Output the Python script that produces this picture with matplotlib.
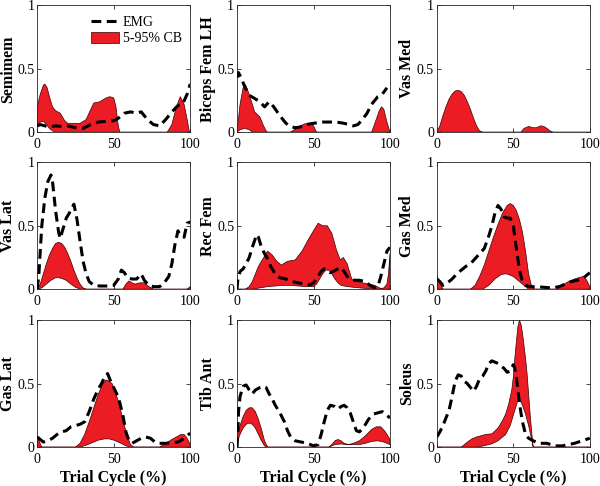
import matplotlib
matplotlib.use("Agg")
import matplotlib.pyplot as plt
from matplotlib.lines import Line2D
from matplotlib.patches import Patch
import numpy as np

plt.rcParams['font.family'] = ['Liberation Serif', 'DejaVu Serif']

# ---- Semimem
semi_emg_x = [0, 2, 5, 8, 12, 16, 20, 25, 30, 35, 40, 45, 50, 53, 57, 61, 65, 68, 72, 76, 80, 84, 88, 92, 95, 98, 100]
semi_emg = [0.05, 0.06, 0.05, 0.04, 0.05, 0.045, 0.05, 0.035, 0.03, 0.06, 0.08, 0.085, 0.09, 0.11, 0.15, 0.16, 0.15, 0.16, 0.1, 0.06, 0.05, 0.1, 0.16, 0.21, 0.22, 0.3, 0.38]
semi_hi_x = [0, 2, 4, 5, 6.5, 8, 10, 12, 15, 18, 20, 25, 28, 32, 35, 37, 41, 45, 47.5, 50, 51.5, 53, 54, 85, 88, 91, 93.5, 96, 98, 99.5, 100]
semi_hi = [0.2, 0.3, 0.37, 0.38, 0.35, 0.28, 0.2, 0.17, 0.15, 0.09, 0.07, 0.07, 0.07, 0.1, 0.18, 0.23, 0.24, 0.27, 0.28, 0.27, 0.2, 0.05, 0, 0, 0.06, 0.2, 0.28, 0.22, 0.1, 0, 0]
semi_lo_x = [0, 2, 4, 6, 8, 10, 12, 100]
semi_lo = [0.04, 0.08, 0.085, 0.06, 0.03, 0.01, 0, 0]

# ---- Biceps Fem LH
bf_emg_x = [0, 1, 3, 5, 8, 11, 15, 18, 21, 24, 28, 32, 35, 38, 41, 45, 50, 55, 60, 65, 70, 73, 76, 79, 82, 85, 88, 92, 95, 98]
bf_emg = [0.43, 0.47, 0.42, 0.36, 0.29, 0.27, 0.24, 0.2, 0.24, 0.2, 0.13, 0.07, 0.045, 0.035, 0.04, 0.06, 0.07, 0.08, 0.08, 0.08, 0.07, 0.06, 0.05, 0.06, 0.1, 0.15, 0.22, 0.28, 0.3, 0.35]
bf_hi_x = [0, 2, 4, 5.5, 7, 9.5, 11.5, 15, 17, 19, 20, 35, 40, 44, 47.5, 50, 52, 88, 91, 93, 94.5, 96, 98, 100]
bf_hi = [0, 0.22, 0.35, 0.375, 0.33, 0.24, 0.16, 0.12, 0.06, 0.01, 0, 0, 0.04, 0.065, 0.07, 0.05, 0, 0, 0.1, 0.17, 0.2, 0.18, 0.08, 0]
bf_lo_x = [0, 2, 5, 8, 10, 100]
bf_lo = [0, 0.02, 0.03, 0.02, 0, 0]

# ---- Vas Med (no EMG trace)
vm_hi_x = [0, 2, 4, 6, 8, 10, 12, 14, 16, 18, 20, 22, 24, 26, 28, 30, 55, 57, 60, 63, 65, 68, 70, 72, 74, 76, 100]
vm_hi = [0, 0.05, 0.13, 0.2, 0.26, 0.3, 0.325, 0.33, 0.32, 0.29, 0.24, 0.18, 0.11, 0.05, 0.01, 0, 0, 0.03, 0.045, 0.035, 0.035, 0.05, 0.045, 0.03, 0.01, 0, 0]
vm_lo_x = [0, 100]
vm_lo = [0, 0]

# ---- Vas Lat
vl_emg_x = [0, 1, 2, 3, 5, 7, 9, 10, 12, 14, 15, 17, 19, 21, 24, 26, 28, 30, 32, 34, 37, 41, 45, 50, 53, 55, 57, 59, 62, 65, 68, 70, 73, 76, 80, 83, 86, 88, 90, 92, 94, 96, 98, 100]
vl_emg = [0, 0.1, 0.3, 0.5, 0.72, 0.85, 0.9, 0.85, 0.62, 0.45, 0.4, 0.48, 0.56, 0.6, 0.67, 0.55, 0.38, 0.22, 0.12, 0.06, 0.03, 0.025, 0.025, 0.03, 0.08, 0.15, 0.13, 0.09, 0.08, 0.08, 0.12, 0.07, 0.03, 0.02, 0.02, 0.05, 0.1, 0.2, 0.35, 0.46, 0.42, 0.41, 0.52, 0.53]
vl_hi_x = [0, 2, 4, 6, 8, 10, 12, 14, 16, 18, 20, 22, 24, 26, 28, 30, 32, 56, 58, 60, 62, 64, 67, 70, 73, 76, 98, 100]
vl_hi = [0, 0.04, 0.12, 0.2, 0.27, 0.32, 0.36, 0.37, 0.36, 0.33, 0.28, 0.22, 0.15, 0.09, 0.04, 0.01, 0, 0, 0.04, 0.065, 0.05, 0.04, 0.05, 0.05, 0.02, 0, 0, 0.02]
vl_lo_x = [0, 3, 6, 9, 12, 14, 16, 19, 22, 25, 28, 100]
vl_lo = [0, 0.01, 0.04, 0.07, 0.09, 0.09, 0.085, 0.07, 0.04, 0.015, 0, 0]

# ---- Rec Fem
rf_emg_x = [0, 0.5, 2, 4, 6, 8, 10, 12, 13, 14, 16, 18, 20, 22, 25, 28, 32, 36, 40, 44, 48, 50, 53, 55, 57, 59, 61, 63, 66, 68, 70, 72, 74, 77, 80, 84, 87, 90, 92, 94, 96, 98, 100]
rf_emg = [0, 0.07, 0.14, 0.16, 0.2, 0.25, 0.33, 0.4, 0.43, 0.41, 0.33, 0.28, 0.24, 0.18, 0.12, 0.09, 0.08, 0.06, 0.05, 0.04, 0.035, 0.05, 0.1, 0.14, 0.16, 0.15, 0.13, 0.14, 0.16, 0.17, 0.14, 0.1, 0.08, 0.07, 0.07, 0.06, 0.03, 0.01, 0.02, 0.1, 0.2, 0.3, 0.33]
rf_hi_x = [0, 5.5, 8, 10, 12, 14, 17, 20, 23, 26, 29, 33, 38, 42.5, 47, 51, 53, 56, 59, 62, 65, 67.5, 69.5, 72, 75, 78, 82, 86, 90, 94, 96, 98, 99, 100]
rf_hi = [0, 0, 0.02, 0.06, 0.12, 0.18, 0.24, 0.3, 0.27, 0.22, 0.19, 0.22, 0.23, 0.3, 0.4, 0.48, 0.52, 0.5, 0.5, 0.44, 0.31, 0.23, 0.25, 0.2, 0.08, 0.06, 0.05, 0.04, 0.03, 0.005, 0.01, 0.04, 0.12, 0.28]
rf_lo_x = [0, 10, 15, 20, 25, 30, 35, 40, 45, 50, 52, 54, 56, 58, 60, 62, 64, 66, 68, 72, 76, 80, 85, 90, 100]
rf_lo = [0, 0, 0.01, 0.02, 0.025, 0.03, 0.03, 0.025, 0.02, 0.02, 0.04, 0.08, 0.12, 0.15, 0.15, 0.12, 0.08, 0.05, 0.03, 0.02, 0.015, 0.01, 0.005, 0, 0]

# ---- Gas Med
gm_emg_x = [0, 2, 4, 7, 10, 13, 16, 19, 22, 25, 28, 31, 34, 36, 38, 40, 42, 44, 46, 48, 50, 52, 54, 56, 58, 61, 65, 70, 75, 80, 84, 88, 92, 96, 100]
gm_emg = [0.08, 0.06, 0.03, 0.05, 0.08, 0.12, 0.15, 0.18, 0.2, 0.24, 0.28, 0.32, 0.42, 0.5, 0.6, 0.66, 0.63, 0.57, 0.56, 0.56, 0.5, 0.32, 0.15, 0.06, 0.03, 0.02, 0.02, 0.015, 0.01, 0.02, 0.04, 0.06, 0.07, 0.09, 0.13]
gm_hi_x = [0, 2, 4, 22, 25, 28, 31, 34, 37, 40, 43, 46, 48, 50, 52, 54, 56, 58, 60, 62, 64, 78, 82, 86, 90, 94, 96, 98, 100]
gm_hi = [0.11, 0.05, 0, 0, 0.03, 0.1, 0.19, 0.3, 0.41, 0.51, 0.6, 0.66, 0.675, 0.66, 0.62, 0.55, 0.45, 0.3, 0.12, 0.02, 0, 0, 0.03, 0.06, 0.08, 0.095, 0.1, 0.07, 0.02]
gm_lo_x = [0, 30, 34, 38, 42, 44, 46, 50, 54, 58, 60, 100]
gm_lo = [0, 0, 0.03, 0.08, 0.115, 0.12, 0.12, 0.1, 0.06, 0.02, 0, 0]

# ---- Gas Lat
gl_emg_x = [0, 2, 4, 7, 10, 13, 16, 19, 22, 25, 28, 31, 34, 37, 40, 42, 44, 46, 48, 50, 52, 54, 56, 58, 60, 62, 65, 68, 71, 74, 77, 80, 84, 88, 92, 95, 98, 100]
gl_emg = [0.08, 0.06, 0.04, 0.05, 0.07, 0.1, 0.12, 0.13, 0.16, 0.17, 0.18, 0.2, 0.28, 0.38, 0.46, 0.5, 0.55, 0.58, 0.52, 0.47, 0.42, 0.35, 0.25, 0.12, 0.05, 0.03, 0.05, 0.07, 0.08, 0.07, 0.04, 0.03, 0.03, 0.035, 0.04, 0.06, 0.09, 0.11]
gl_hi_x = [0, 1.5, 3, 25, 28, 31, 34, 37, 40, 43, 45, 47, 49, 51, 53, 55, 57, 59, 61, 63, 80, 84, 88, 91, 94, 96, 98, 100]
gl_hi = [0.09, 0.04, 0, 0, 0.03, 0.1, 0.2, 0.31, 0.42, 0.5, 0.53, 0.52, 0.5, 0.44, 0.36, 0.27, 0.17, 0.08, 0.02, 0, 0, 0.03, 0.06, 0.08, 0.1, 0.1, 0.07, 0.02]
gl_lo_x = [0, 28, 32, 36, 40, 44, 47, 50, 54, 58, 61, 100]
gl_lo = [0, 0, 0.015, 0.035, 0.055, 0.065, 0.065, 0.055, 0.035, 0.01, 0, 0]

# ---- Tib Ant
ta_emg_x = [0, 0.5, 1, 2, 4, 6, 8, 10, 12, 15, 17, 19, 21, 23, 25, 28, 31, 33, 35, 38, 42, 46, 50, 53, 55, 57, 59, 61, 64, 66, 68, 70, 72, 74, 76, 78, 80, 83, 86, 89, 92, 95, 98, 100]
ta_emg = [0, 0.1, 0.28, 0.4, 0.48, 0.49, 0.45, 0.42, 0.45, 0.47, 0.48, 0.47, 0.42, 0.38, 0.33, 0.27, 0.2, 0.13, 0.08, 0.05, 0.04, 0.03, 0.01, 0.02, 0.1, 0.2, 0.29, 0.33, 0.32, 0.3, 0.32, 0.33, 0.31, 0.27, 0.2, 0.13, 0.12, 0.16, 0.22, 0.26, 0.27, 0.28, 0.25, 0.23]
ta_hi_x = [0, 2, 4, 6, 8, 10, 12, 14, 16, 18, 20, 60, 62, 64, 66, 68, 70, 73, 76, 80, 84, 88, 91, 94, 97, 100]
ta_hi = [0.08, 0.17, 0.24, 0.29, 0.31, 0.31, 0.28, 0.22, 0.14, 0.05, 0, 0, 0.02, 0.05, 0.06, 0.05, 0.03, 0.02, 0.03, 0.05, 0.09, 0.14, 0.16, 0.16, 0.12, 0.06]
ta_lo_x = [0, 2, 4, 6, 8, 10, 12, 14, 16, 18, 19, 60, 64, 68, 72, 76, 80, 84, 88, 92, 96, 100]
ta_lo = [0.04, 0.1, 0.15, 0.18, 0.19, 0.18, 0.15, 0.1, 0.05, 0.01, 0, 0, 0.02, 0.025, 0.02, 0.02, 0.02, 0.03, 0.045, 0.05, 0.04, 0.02]

# ---- Soleus
sol_emg_x = [0, 2, 4, 6, 8, 10, 12, 14, 16, 18, 20, 22, 24, 26, 28, 30, 32, 34, 36, 38, 40, 42, 44, 46, 48, 50, 51, 52, 53, 54, 55, 56, 57, 58, 60, 63, 67, 72, 77, 82, 86, 90, 95, 100]
sol_emg = [0.08, 0.12, 0.17, 0.23, 0.29, 0.4, 0.52, 0.57, 0.56, 0.52, 0.5, 0.47, 0.44, 0.48, 0.54, 0.56, 0.6, 0.66, 0.68, 0.67, 0.66, 0.64, 0.62, 0.59, 0.6, 0.65, 0.62, 0.55, 0.45, 0.35, 0.27, 0.2, 0.15, 0.1, 0.07, 0.05, 0.03, 0.03, 0.01, 0.01, 0.02, 0.03, 0.05, 0.07]
sol_hi_x = [0, 16, 18, 20, 23, 26, 29, 32, 36, 40, 43, 45, 47, 49, 50, 51, 52, 53, 54, 55, 56, 57, 58, 59, 60, 61, 62, 63, 100]
sol_hi = [0, 0, 0.02, 0.04, 0.065, 0.08, 0.09, 0.1, 0.105, 0.15, 0.21, 0.26, 0.34, 0.45, 0.55, 0.7, 0.83, 0.95, 1.0, 0.97, 0.9, 0.8, 0.7, 0.58, 0.42, 0.26, 0.12, 0, 0]
sol_lo_x = [0, 25, 30, 36, 40, 45, 48, 50, 52, 53, 54, 56, 58, 60, 62, 63, 100]
sol_lo = [0, 0, 0.008, 0.026, 0.05, 0.1, 0.17, 0.25, 0.33, 0.37, 0.38, 0.33, 0.26, 0.17, 0.06, 0, 0]

names = ['Semimem', 'Biceps Fem LH', 'Vas Med', 'Vas Lat', 'Rec Fem', 'Gas Med',
         'Gas Lat', 'Tib Ant', 'Soleus']
panels = [
    (semi_emg_x, semi_emg, semi_hi_x, semi_hi, semi_lo_x, semi_lo),
    (bf_emg_x, bf_emg, bf_hi_x, bf_hi, bf_lo_x, bf_lo),
    (None, None, vm_hi_x, vm_hi, vm_lo_x, vm_lo),
    (vl_emg_x, vl_emg, vl_hi_x, vl_hi, vl_lo_x, vl_lo),
    (rf_emg_x, rf_emg, rf_hi_x, rf_hi, rf_lo_x, rf_lo),
    (gm_emg_x, gm_emg, gm_hi_x, gm_hi, gm_lo_x, gm_lo),
    (gl_emg_x, gl_emg, gl_hi_x, gl_hi, gl_lo_x, gl_lo),
    (ta_emg_x, ta_emg, ta_hi_x, ta_hi, ta_lo_x, ta_lo),
    (sol_emg_x, sol_emg, sol_hi_x, sol_hi, sol_lo_x, sol_lo),
]

red = '#EC1C24'
dash = (0, (3.2, 1.8))
fig = plt.figure(figsize=(6.0, 4.86), dpi=100)
lefts = [0.062, 0.395, 0.728]
bottoms = [0.728, 0.405, 0.080]
w, h = 0.255, 0.261

for i, (name, (ex, ey, hx, hy, lx, ly)) in enumerate(zip(names, panels)):
    r, c = divmod(i, 3)
    ax = fig.add_axes([lefts[c], bottoms[r], w, h])
    # band: upper curve then lower curve reversed
    px = np.r_[np.array(hx, float), np.array(lx, float)[::-1]]
    py = np.r_[np.array(hy, float), np.array(ly, float)[::-1]]
    ax.fill(px, py, facecolor=red, edgecolor='#3a0000', linewidth=0.5, zorder=2)
    if ex is not None:
        ax.plot(ex, ey, color='black', linewidth=2.2, linestyle=dash, zorder=3)
    ax.set_xlim(0, 100)
    ax.set_ylim(0, 1)
    ax.set_xticks([0, 50, 100])
    ax.set_yticks([0, 0.5, 1])
    ax.set_yticklabels(['0', '0.5', '1'])
    ax.tick_params(direction='in', length=3, width=0.6, labelsize=10, top=True, right=True,
                   colors='#262626', labelcolor='black')
    ax.tick_params(axis='x', pad=4)
    ax.tick_params(axis='y', pad=2)
    for s in ax.spines.values():
        s.set_color('#262626')
        s.set_linewidth(0.6)
    ax.set_ylabel(name, fontsize=11.5, fontweight='bold')
    ax.yaxis.set_label_coords(-0.14, 0.5)
    if r == 2:
        ax.set_xlabel('Trial Cycle (%)', fontsize=11.5, fontweight='bold', labelpad=3)
    if i == 0:
        handles = [Line2D([], [], color='black', linewidth=2.2, linestyle=dash),
                   Patch(facecolor=red, edgecolor='#3a0000', linewidth=0.5)]
        ax.legend(handles, ['EMG', '5-95% CB'], loc='upper left', bbox_to_anchor=(0.35, 0.92),
                  frameon=False, fontsize=10, handlelength=2.0, handleheight=0.9,
                  handletextpad=0.3, labelspacing=0.2, borderpad=0, borderaxespad=0)

fig.savefig('out.png', dpi=100)
